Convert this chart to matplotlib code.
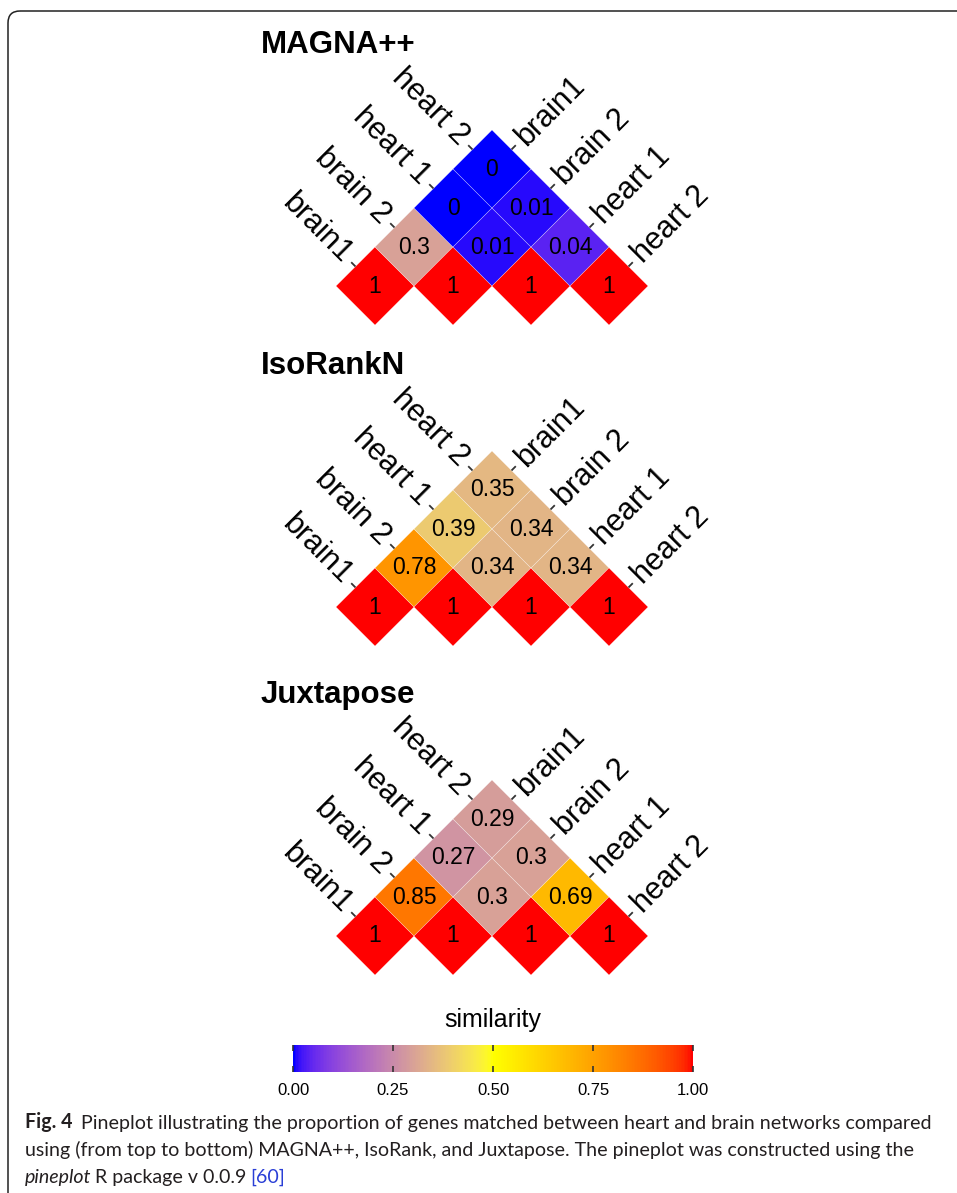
import numpy as np
import matplotlib
matplotlib.use("Agg")
import matplotlib.pyplot as plt
from matplotlib.colors import ListedColormap, Normalize
from matplotlib.collections import PolyCollection
from matplotlib.patches import FancyBboxPatch
import matplotlib.cm as cm

plt.rcParams['font.family'] = ['Liberation Sans', 'DejaVu Sans']

# similarity matrices (upper triangle), rows/cols in sample order
samples = ["brain1", "brain 2", "heart 1", "heart 2"]
methods = ["MAGNA++", "IsoRankN", "Juxtapose"]
nan = np.nan
magna = [[1, 0.3, 0, 0],
         [nan, 1, 0.01, 0.01],
         [nan, nan, 1, 0.04],
         [nan, nan, nan, 1]]
isorank = [[1, 0.78, 0.39, 0.35],
           [nan, 1, 0.34, 0.34],
           [nan, nan, 1, 0.34],
           [nan, nan, nan, 1]]
juxtapose = [[1, 0.85, 0.27, 0.29],
             [nan, 1, 0.3, 0.3],
             [nan, nan, 1, 0.69],
             [nan, nan, nan, 1]]
matrices = [magna, isorank, juxtapose]
cbar_ticks = [0, 0.25, 0.5, 0.75, 1]

W, H = 957, 1193
PX = 39  # pixels per half-diagonal of a cell


# blue -> yellow -> red gradient interpolated in CIELAB
WHITE = np.array([0.95047, 1.0, 1.08883])
M = np.array([[0.4124564, 0.3575761, 0.1804375],
              [0.2126729, 0.7151522, 0.0721750],
              [0.0193339, 0.1191920, 0.9503041]])
D = 6 / 29


def rgb2lab(rgb):
    rgb = np.asarray(rgb, float)
    lin = np.where(rgb <= 0.04045, rgb / 12.92, ((rgb + 0.055) / 1.055) ** 2.4)
    xyz = M @ lin / WHITE
    f = np.where(xyz > D ** 3, np.cbrt(xyz), xyz / (3 * D ** 2) + 4 / 29)
    return np.array([116 * f[1] - 16, 500 * (f[0] - f[1]), 200 * (f[1] - f[2])])


def lab2rgb(lab):
    L, a, b = lab
    fy = (L + 16) / 116
    f = np.array([fy + a / 500, fy, fy - b / 200])
    xyz = np.where(f > D, f ** 3, 3 * D ** 2 * (f - 4 / 29)) * WHITE
    lin = np.linalg.solve(M, xyz)
    rgb = np.where(lin <= 0.0031308, 12.92 * lin,
                   1.055 * np.clip(lin, 0, None) ** (1 / 2.4) - 0.055)
    return np.clip(rgb, 0, 1)


stops = [0, 0.5, 1]
stop_labs = [rgb2lab(c) for c in [(0, 0, 1), (1, 1, 0), (1, 0, 0)]]
ramp = []
for v in np.linspace(0, 1, 256):
    k = 0 if v <= 0.5 else 1
    t = (v - stops[k]) / (stops[k + 1] - stops[k])
    ramp.append(lab2rgb((1 - t) * stop_labs[k] + t * stop_labs[k + 1]))
cmap = ListedColormap(ramp)
norm = Normalize(0, 1)

fig = plt.figure(figsize=(W / 100, H / 100), dpi=100)

# page layer: frame and caption in pixel units
bg = fig.add_axes([0, 0, 1, 1])
bg.set_xlim(0, W)
bg.set_ylim(H, 0)
bg.axis("off")
bg.add_patch(FancyBboxPatch((8, 11), 1200, 1400,
                            boxstyle="round,pad=0,rounding_size=12",
                            fill=False, ec="#222222", lw=1.1))


def panel(mat, title, cx, cy):
    xlim, ylim = (-9, 13), (-1.6, 7.6)
    ax = fig.add_axes([(cx + xlim[0] * PX) / W, (H - cy + ylim[0] * PX) / H,
                       (xlim[1] - xlim[0]) * PX / W, (ylim[1] - ylim[0]) * PX / H])
    ax.set_xlim(*xlim)
    ax.set_ylim(*ylim)
    ax.axis("off")
    n = len(samples)
    polys, vals = [], []
    for r in range(n):
        for c in range(r, n):
            x, y = r + c, c - r
            polys.append([(x - 1, y), (x, y + 1), (x + 1, y), (x, y - 1)])
            vals.append(mat[r][c])
            ax.text(x, y, f"{mat[r][c]:g}", ha="center", va="center",
                    fontsize=16.5, color="black")
    pc = PolyCollection(polys, array=np.array(vals), cmap=cmap, norm=norm,
                        edgecolors=(1, 1, 1, 0.45), linewidths=0.4)
    ax.add_collection(pc)
    tk, gap = 0.11, 0.22
    for i, name in enumerate(samples):
        # left edge: column labels
        ex, ey = i - 0.5, i + 0.5
        ax.plot([ex, ex - tk], [ey, ey + tk], color="#333333", lw=1.3,
                solid_capstyle="butt")
        ax.text(ex - gap, ey + gap, name, rotation=-45, rotation_mode="anchor",
                ha="right", va="center", fontsize=22)
        # right edge: row labels
        ex, ey = i + n - 1 + 0.5, n - 1 - i + 0.5
        ax.plot([ex, ex + tk], [ey, ey + tk], color="#333333", lw=1.3,
                solid_capstyle="butt")
        ax.text(ex + gap, ey + gap, name, rotation=45, rotation_mode="anchor",
                ha="left", va="center", fontsize=22)
    ax.text(-2.93, 6.18, title, ha="left", va="center", fontsize=22.5,
            fontweight="bold")


for mat, title, cy in zip(matrices, methods, [286, 607, 936]):
    panel(mat, title, 375, cy)

# colour bar
cax = fig.add_axes([293 / W, (H - 1072) / H, 400 / W, 27 / H])
cb = fig.colorbar(cm.ScalarMappable(norm=norm, cmap=cmap), cax=cax,
                  orientation="horizontal", ticks=cbar_ticks)
cb.outline.set_visible(False)
cb.ax.set_xticklabels([f"{t:.2f}" for t in cbar_ticks])
cb.ax.tick_params(axis="x", direction="in", top=True, bottom=True, length=4,
                  width=1.2, color="#333333", labelsize=12, pad=8)
bg.text(493, 1020, "similarity", ha="center", va="center", fontsize=18)

# caption
cap = dict(family=["Lato", "DejaVu Sans"], fontsize=14.1, color="#231f20")
t = bg.text(25, 1122, "Fig. 4", ha="left", va="center", fontweight="bold", **cap)
bg.annotate("Pineplot illustrating the proportion of genes matched between heart "
            "and brain networks compared", xy=(1, 0), xycoords=t,
            xytext=(6, 0), textcoords="offset points", ha="left", va="bottom", **cap)
bg.text(25, 1150, "using (from top to bottom) MAGNA++, IsoRank, and Juxtapose. "
        "The pineplot was constructed using the", ha="left", va="center", **cap)
t = bg.text(25, 1177, "pineplot", ha="left", va="center", style="italic", **cap)
t = bg.annotate("R package v 0.0.9", xy=(1, 0), xycoords=t, xytext=(2.5, 0),
                textcoords="offset points", ha="left", va="bottom", **cap)
bg.annotate("[60]", xy=(1, 0), xycoords=t, xytext=(2.5, 0),
            textcoords="offset points", ha="left", va="bottom",
            **{**cap, "color": "#2a3fd6"})

fig.savefig("out.png", dpi=100)
